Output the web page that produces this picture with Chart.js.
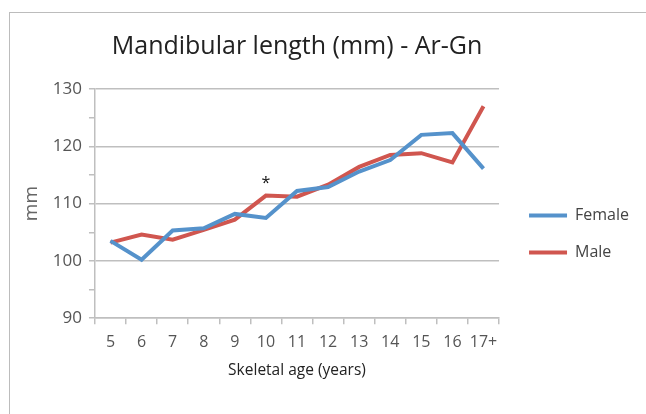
<!DOCTYPE html>
<html>
<head>
<meta charset="utf-8">
<script src="https://cdn.jsdelivr.net/npm/chart.js@4/dist/chart.umd.min.js"></script>
<style>
  html, body { margin: 0; padding: 0; background: #fff; overflow: hidden; }
  #wrap { position: relative; width: 646px; height: 414px; }
  #frame { position: absolute; left: 9px; top: 12px; width: 700px; height: 500px;
           border-left: 1.5px solid #bcbcbc; border-top: 1.5px solid #bcbcbc; }
  canvas { position: absolute; left: 0; top: 0; }
</style>
</head>
<body>
<div id="wrap">
  <div id="frame"></div>
  <canvas id="chart" width="646" height="414"></canvas>
</div>
<script>
const ages = ['5', '6', '7', '8', '9', '10', '11', '12', '13', '14', '15', '16', '17+'];
const female = [103.5, 100.2, 105.3, 105.7, 108.2, 107.5, 112.2, 112.9, 115.6, 117.6, 122.0, 122.3, 116.1];
const male = [103.2, 104.6, 103.7, 105.4, 107.2, 111.4, 111.2, 113.3, 116.4, 118.5, 118.8, 117.2, 127.0];
const yTicks = [90, 100, 110, 120, 130];
const significant = ['10']; // marked with *

const font = "'Open Sans', Lato, sans-serif";

const starPlugin = {
    id: 'star',
    afterDatasetsDraw(chart) {
        const ctx = chart.ctx;
        const x = chart.scales.x;
        const y = chart.scales.y;
        ctx.save();
        ctx.fillStyle = '#111';
        ctx.font = '16px ' + font;
        ctx.textAlign = 'center';
        ctx.textBaseline = 'middle';
        significant.forEach(age => {
            const i = ages.indexOf(age);
            const top = Math.max(female[i], male[i]);
            ctx.fillText('*', x.getPixelForValue(i), y.getPixelForValue(top) - 12);
        });
        ctx.restore();
    }
};

// nudge the legend a bit right and down, like the original
const legendShift = {
    id: 'legendShift',
    afterLayout(chart) {
        const lg = chart.legend;
        lg.left += 9; lg.right += 9;
        lg.top += 26; lg.bottom += 26;
    }
};

new Chart(document.getElementById('chart'), {
    type: 'line',
    data: {
        labels: ages,
        datasets: [
            { label: 'Female', data: female, borderColor: '#5592CB', backgroundColor: '#5592CB',
              borderWidth: 4, pointRadius: 0, tension: 0 },
            { label: 'Male', data: male, borderColor: '#D0564F', backgroundColor: '#D0564F',
              borderWidth: 4, pointRadius: 0, tension: 0 }
        ]
    },
    options: {
        responsive: false,
        animation: false,
        layout: { padding: { left: 17, right: 16, top: 32, bottom: 30 } },
        plugins: {
            title: {
                display: true,
                fullSize: false,
                text: 'Mandibular length (mm) - Ar-Gn',
                color: '#222',
                font: { family: font, size: 25, weight: 'normal' },
                padding: { top: 0, bottom: 27 }
            },
            legend: {
                position: 'right',
                labels: {
                    color: '#444',
                    font: { family: font, size: 16 },
                    boxWidth: 38,
                    boxHeight: 4,
                    padding: 21,
                    generateLabels: chart => Chart.defaults.plugins.legend.labels.generateLabels(chart)
                        .map(l => ({ ...l, lineWidth: 0, fillStyle: l.strokeStyle }))
                }
            },
            tooltip: { enabled: false }
        },
        scales: {
            x: {
                offset: true,
                grid: { offset: true, drawOnChartArea: false, color: '#bfbfbf', tickLength: 6, lineWidth: 1.5 },
                border: { color: '#bfbfbf', width: 1.5 },
                ticks: { color: '#555', font: { family: font, size: 16 }, padding: 9, maxRotation: 0, autoSkip: false },
                title: { display: true, text: 'Skeletal age (years)', color: '#222',
                         font: { family: font, size: 15.5 }, padding: { top: 0 } }
            },
            y: {
                min: 90, max: 130,
                afterBuildTicks: axis => {
                    const t = [];
                    for (let v = yTicks[0]; v <= yTicks[yTicks.length - 1]; v += 5) t.push({ value: v });
                    axis.ticks = t;
                },
                grid: {
                    color: c => yTicks.includes(c.tick.value) ? '#bfbfbf' : 'rgba(0,0,0,0)',
                    tickColor: '#bfbfbf',
                    tickLength: 6,
                    lineWidth: 1.5
                },
                border: { color: '#bfbfbf', width: 1.5 },
                ticks: {
                    color: '#555',
                    font: { family: font, size: 17 },
                    padding: 7,
                    callback: v => yTicks.includes(v) ? v : ''
                },
                title: { display: true, text: 'mm', color: '#666', font: { family: font, size: 19 }, padding: { top: 3, bottom: 3 } }
            }
        }
    },
    plugins: [starPlugin, legendShift]
});
</script>
</body>
</html>
